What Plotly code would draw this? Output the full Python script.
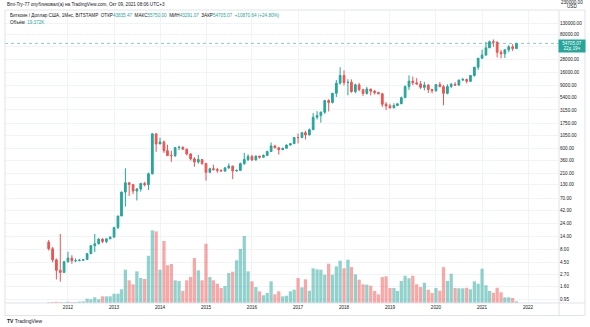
import math
import pandas as pd
import plotly.graph_objects as go

# ---------------- data (monthly BTC/USD, Bitstamp) ----------------
months = pd.date_range("2011-08-01", "2021-10-01", freq="MS")

opens = [
    10.90, 8.20, 5.10, 3.25, 2.97,
    4.70, 5.50, 4.90, 4.92, 5.00, 5.15, 6.65, 9.35, 10.15, 12.40, 11.20, 12.55,
    13.50, 20.40, 33.40, 93.00, 139.00, 128.50, 97.50, 106.00, 135.00, 127.00, 204.00, 1130.00,
    732.00, 800.00, 550.00, 445.00, 444.00, 627.00, 636.00, 586.00, 478.00, 387.00, 338.00, 376.00,
    318.00, 217.00, 254.00, 244.00, 236.00, 230.00, 263.00, 284.00, 230.00, 236.00, 315.00, 377.00,
    430.00, 368.00, 436.00, 416.00, 448.00, 531.00, 673.00, 624.00, 573.00, 608.00, 698.00, 742.00,
    964.00, 962.00, 1190.00, 1080.00, 1350.00, 2300.00, 2480.00, 2870.00, 4720.00, 4340.00, 6440.00, 9920.00,
    13800.00, 10200.00, 10300.00, 6930.00, 9240.00, 7500.00, 6390.00, 7730.00, 7030.00, 6630.00, 6300.00, 4020.00,
    3740.00, 3450.00, 3820.00, 4100.00, 5330.00, 8560.00, 10820.00, 10080.00, 9600.00, 8300.00, 9150.00, 7550.00,
    7200.00, 9350.00, 8540.00, 6420.00, 8630.00, 9450.00, 9140.00, 11350.00, 11650.00, 10780.00, 13800.00, 19700.00,
    28950.00, 33100.00, 45150.00, 58800.00, 57700.00, 37300.00, 35050.00, 41500.00, 47100.00, 43835.47,
]
highs = [
    11.90, 8.90, 5.40, 15.50, 4.80,
    7.20, 6.20, 5.40, 5.30, 5.25, 6.80, 9.70, 15.40, 12.90, 12.80, 12.60, 13.90,
    20.70, 33.50, 95.00, 259.00, 140.00, 130.00, 111.00, 138.00, 145.00, 215.00, 1163.00, 1145.00,
    960.00, 850.00, 710.00, 550.00, 630.00, 680.00, 660.00, 600.00, 490.00, 415.00, 460.00, 385.00,
    320.00, 265.00, 300.00, 262.00, 247.00, 268.00, 318.00, 286.00, 245.00, 330.00, 500.00, 470.00,
    460.00, 445.00, 440.00, 468.00, 550.00, 780.00, 705.00, 625.00, 623.00, 720.00, 755.00, 975.00,
    1150.00, 1200.00, 1290.00, 1420.00, 2760.00, 2990.00, 2930.00, 4740.00, 5000.00, 6470.00, 11400.00, 19670.00,
    17200.00, 11800.00, 11700.00, 9750.00, 9990.00, 7770.00, 8500.00, 7760.00, 7400.00, 6900.00, 6550.00, 4400.00,
    4100.00, 4200.00, 4120.00, 5600.00, 9070.00, 13880.00, 13150.00, 12330.00, 10920.00, 10500.00, 9510.00, 7750.00,
    9580.00, 10500.00, 9200.00, 9470.00, 10070.00, 10390.00, 11450.00, 12480.00, 12090.00, 14100.00, 19880.00, 29300.00,
    41950.00, 58350.00, 61780.00, 64900.00, 59500.00, 41300.00, 42300.00, 50500.00, 52900.00, 55750.00,
]
lows = [
    7.60, 4.60, 2.20, 2.00, 2.90,
    4.50, 4.30, 4.60, 4.80, 4.90, 5.15, 6.50, 7.10, 9.90, 10.40, 10.40, 12.40,
    13.20, 19.10, 33.20, 50.00, 79.00, 85.00, 65.00, 95.00, 119.00, 102.00, 198.00, 522.00,
    730.00, 500.00, 440.00, 340.00, 420.00, 560.00, 575.00, 450.00, 360.00, 275.00, 315.00, 300.00,
    152.00, 210.00, 235.00, 213.00, 227.00, 220.00, 252.00, 162.00, 225.00, 235.00, 300.00, 350.00,
    355.00, 365.00, 390.00, 405.00, 440.00, 520.00, 605.00, 465.00, 565.00, 605.00, 685.00, 740.00,
    750.00, 940.00, 890.00, 1060.00, 1350.00, 2100.00, 1830.00, 2660.00, 2950.00, 4160.00, 5500.00, 9400.00,
    9000.00, 5900.00, 6600.00, 6430.00, 7040.00, 5750.00, 6070.00, 5880.00, 6120.00, 6200.00, 3550.00, 3130.00,
    3350.00, 3400.00, 3730.00, 4080.00, 5330.00, 7450.00, 9100.00, 9350.00, 7750.00, 7300.00, 6500.00, 6430.00,
    6860.00, 8450.00, 3850.00, 6150.00, 8100.00, 8900.00, 8980.00, 10980.00, 9880.00, 10420.00, 13200.00, 17600.00,
    28200.00, 32300.00, 44950.00, 47050.00, 30000.00, 28800.00, 29300.00, 37400.00, 39600.00, 43291.07,
]
closes = [
    8.20, 5.10, 3.25, 2.97, 4.70,
    5.50, 4.90, 4.92, 5.00, 5.15, 6.65, 9.35, 10.15, 12.40, 11.20, 12.55, 13.50,
    20.40, 33.40, 93.00, 139.00, 128.50, 97.50, 106.00, 135.00, 127.00, 204.00, 1130.00, 732.00,
    800.00, 550.00, 445.00, 444.00, 627.00, 636.00, 586.00, 478.00, 387.00, 338.00, 376.00, 318.00,
    217.00, 254.00, 244.00, 236.00, 230.00, 263.00, 284.00, 230.00, 236.00, 315.00, 377.00, 430.00,
    368.00, 436.00, 416.00, 448.00, 531.00, 673.00, 624.00, 573.00, 608.00, 698.00, 742.00, 964.00,
    962.00, 1190.00, 1080.00, 1350.00, 2300.00, 2480.00, 2870.00, 4720.00, 4340.00, 6440.00, 9920.00, 13800.00,
    10200.00, 10300.00, 6930.00, 9240.00, 7500.00, 6390.00, 7730.00, 7030.00, 6630.00, 6300.00, 4020.00, 3740.00,
    3450.00, 3820.00, 4100.00, 5330.00, 8560.00, 10820.00, 10080.00, 9600.00, 8300.00, 9150.00, 7550.00, 7200.00,
    9350.00, 8540.00, 6420.00, 8630.00, 9450.00, 9140.00, 11350.00, 11650.00, 10780.00, 13800.00, 19700.00, 28950.00,
    33100.00, 45150.00, 58800.00, 57700.00, 37300.00, 35050.00, 41500.00, 47100.00, 43834.43, 54705.07,
]
# monthly volume, thousand BTC
volumes_k = [
    9, 11, 14, 10, 9,
    14, 11, 10, 16, 19, 49, 42, 65, 42, 76, 76, 76,
    106, 106, 156, 380, 259, 213, 361, 285, 274, 539, 829, 817,
    380, 707, 430, 445, 259, 251, 137, 259, 296, 513, 373, 259,
    676, 296, 259, 220, 171, 194, 342, 357, 487, 616, 764, 361,
    247, 182, 133, 88, 114, 247, 99, 133, 76, 83, 133, 152,
    285, 179, 270, 140, 396, 384, 380, 323, 448, 323, 418, 482,
    396, 494, 410, 327, 266, 213, 209, 197, 137, 99, 296, 304,
    171, 171, 137, 251, 311, 282, 311, 213, 182, 231, 152, 114,
    171, 140, 410, 251, 334, 171, 168, 168, 174, 156, 247, 220,
    391, 202, 137, 117, 174, 122, 65, 65, 57, 19.372,
]

year_ticks = [f"{y}-01-01" for y in range(2012, 2023)]
year_labels = [str(y) for y in range(2012, 2023)]
price_ticks = [0.95, 1.6, 2.7, 4.5, 8, 14, 24, 42, 70, 130, 210, 360, 600, 1050,
               1750, 3150, 5400, 9000, 16000, 28000, 47000, 80000, 130000, 230000]
# 47000 sits under the current-price badge and 230000 is drawn above the pane
hidden_labels = {47000, 230000}
price_labels = ["" if v in hidden_labels else f"{v:.2f}" for v in price_ticks]

header = "Bmi-Try-77 опубликовал(а) на TradingView.com, Окт 09, 2021 08:06 UTC+3"
symbol = "Биткоин / Доллар США, 1Мес, BITSTAMP"
countdown = "22д 19ч"

# ---------------- style ----------------
UP, DOWN = "#26a69a", "#ef5350"
UP_V, DOWN_V = "rgba(38,166,154,0.5)", "rgba(239,83,80,0.5)"
GRID = "#f0f3fa"
BORDER = "#e0e3eb"
TXT = "#131722"
FONT = "Liberation Sans, Arial, sans-serif"

W, H = 590, 327
PL, PR, PT, PB = 5, 559, 10, 303          # plot area in pixels
X_RANGE = ["2010-08-19", "2022-09-04"]
Y_RANGE = [-0.0965, 5.3597]               # log10


def px(x):
    return (x - PL) / (PR - PL)


def py(y):
    return (PB - y) / (PB - PT)


vol_colors = [UP_V if c >= o else DOWN_V for o, c in zip(opens, closes)]

fig = go.Figure()
fig.add_trace(go.Candlestick(
    x=months, open=opens, high=highs, low=lows, close=closes,
    increasing=dict(line=dict(color=UP, width=1), fillcolor=UP),
    decreasing=dict(line=dict(color=DOWN, width=1), fillcolor=DOWN),
    whiskerwidth=0, showlegend=False, hoverinfo="skip", yaxis="y",
))
fig.add_trace(go.Bar(
    x=months, y=volumes_k, marker=dict(color=vol_colors, line=dict(width=0)),
    width=26 * 86400000, yaxis="y2", showlegend=False, hoverinfo="skip",
))
last_close = closes[-1]
fig.add_trace(go.Scatter(
    x=X_RANGE, y=[last_close, last_close], mode="lines",
    line=dict(color="rgba(38,166,154,0.55)", width=1, dash="dot"),
    yaxis="y", showlegend=False, hoverinfo="skip",
))

o, h, l, c = opens[-1], highs[-1], lows[-1], closes[-1]
chg = c - closes[-2]
pct = chg / closes[-2] * 100
sp = "&nbsp;&nbsp;"
teal = lambda s: f"<span style='color:{UP}'>{s}</span>"
legend1 = (f"{symbol}{sp}ОТКР{teal(f'{o:.2f}')}{sp}МАКС{teal(f'{h:.2f}')}{sp}"
           f"МИН{teal(f'{l:.2f}')}{sp}ЗАКР{teal(f'{c:.2f}')}{sp}"
           f"{teal(f'{chg:+.2f} ({pct:+.2f}%)')}")
legend2 = f"Объём{sp}{teal(f'{volumes_k[-1]:.3f}K')}"

fs = 4.6
annotations = [
    dict(text=header, x=px(5), y=py(4.5), xref="paper", yref="paper",
         xanchor="left", yanchor="middle", showarrow=False,
         font=dict(size=fs, color=TXT)),
    dict(text=legend1, x=px(7.5), y=py(15.5), xref="paper", yref="paper",
         xanchor="left", yanchor="middle", showarrow=False,
         font=dict(size=fs, color=TXT)),
    dict(text=legend2, x=px(7.5), y=py(22), xref="paper", yref="paper",
         xanchor="left", yanchor="middle", showarrow=False,
         font=dict(size=fs, color=TXT)),
    dict(text=f"{price_ticks[-1]:.2f}", x=px(572), y=py(2), xref="paper", yref="paper",
         xanchor="center", yanchor="middle", showarrow=False,
         font=dict(size=fs, color=TXT)),
    dict(text="USD", x=px(572), y=py(6), xref="paper", yref="paper",
         xanchor="center", yanchor="middle", showarrow=False,
         font=dict(size=fs, color=TXT)),
    dict(text=f"{c:.2f}<br>{countdown}", x=px(558), y=math.log10(c),
         xref="paper", yref="y", xanchor="left", yanchor="middle", yshift=-2.5,
         showarrow=False, bgcolor=UP, width=24, height=10, align="center",
         font=dict(size=fs, color="white")),
    dict(text="<b>TV</b> TradingView", x=px(5), y=py(321), xref="paper", yref="paper",
         xanchor="left", yanchor="middle", showarrow=False,
         font=dict(size=5, color=TXT)),
]

shapes = [
    dict(type="rect", xref="paper", yref="paper", x0=px(5), x1=px(585), y0=py(315.5), y1=py(10),
         line=dict(color=BORDER, width=1), layer="above"),
    dict(type="line", xref="paper", yref="paper", x0=px(559), x1=px(559), y0=py(315.5), y1=py(10),
         line=dict(color=BORDER, width=1), layer="above"),
    dict(type="line", xref="paper", yref="paper", x0=px(5), x1=px(585), y0=py(303), y1=py(303),
         line=dict(color=BORDER, width=1), layer="above"),
]

fig.update_layout(
    width=W, height=H,
    margin=dict(l=PL, r=W - PR, t=PT, b=H - PB),
    paper_bgcolor="white", plot_bgcolor="white",
    font=dict(family=FONT, size=fs, color=TXT),
    boxgap=0.3,
    xaxis=dict(
        type="date", range=X_RANGE, rangeslider=dict(visible=False),
        tickvals=year_ticks, ticktext=year_labels, showgrid=True,
        gridcolor=GRID, gridwidth=1, ticks="", showline=False, zeroline=False,
        tickfont=dict(size=fs, color=TXT),
    ),
    yaxis=dict(
        type="log", range=Y_RANGE, side="right", tickvals=price_ticks, ticktext=price_labels,
        showgrid=True, gridcolor=GRID, gridwidth=1, ticks="", showline=False,
        zeroline=False, tickfont=dict(size=fs, color=TXT),
    ),
    yaxis2=dict(
        overlaying="y", range=[0, max(volumes_k) / 0.248], visible=False,
        showgrid=False, zeroline=False,
    ),
    annotations=annotations,
    shapes=shapes,
    showlegend=False,
)

fig.write_html("out.html")
